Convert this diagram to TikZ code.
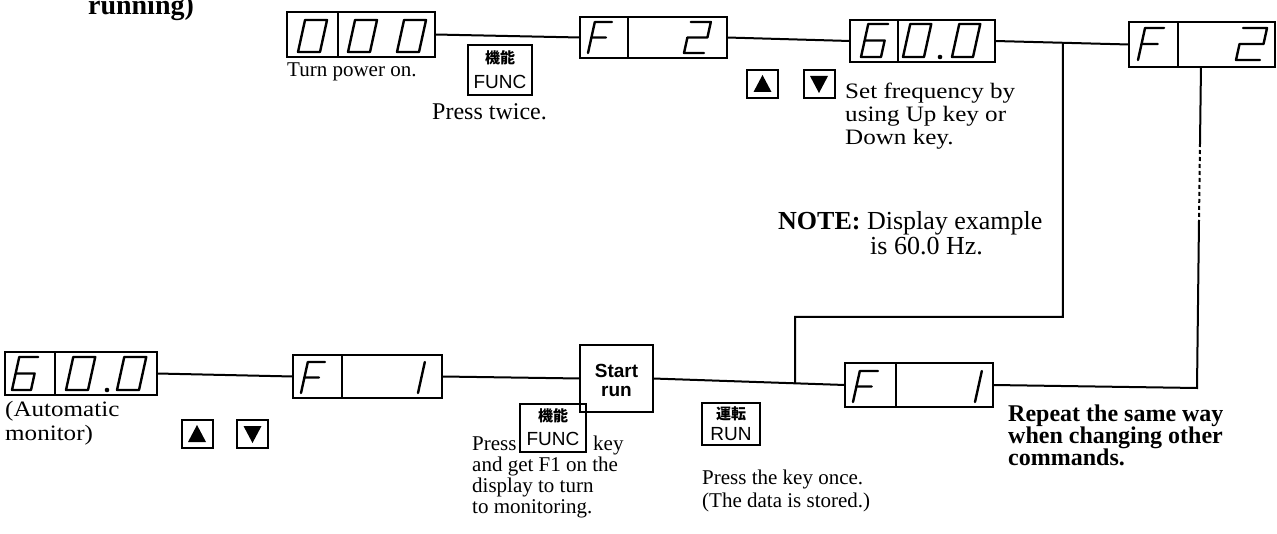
\documentclass[tikz,border=0pt]{standalone}
\usepackage{fontspec}
\setmainfont{Liberation Serif}
\setsansfont{Liberation Sans}
\newfontfamily\cjk{Noto Sans CJK JP}
\newfontfamily\serifwide{Liberation Serif}[FakeStretch=1.14]
\usetikzlibrary{calc}

\newcommand{\tsz}[1]{\fontsize{#1}{#1}\selectfont}

\tikzset{
  dispframe/.style={draw, line width=2.2pt, inner sep=0pt, outer sep=0pt},
  keyframe/.style={draw, line width=2pt, inner sep=0pt, outer sep=0pt},
  conn/.style={line width=2pt},
  segstroke/.style={line width=2.4pt, line join=round, line cap=round},
  txt/.style={inner sep=0pt, anchor=base west},
  keylab/.style={inner sep=0pt},
}

% display box: name, x1, y1, x2, y2, divider x
\newcommand{\dispbox}[6]{%
  \node[dispframe, minimum width={#4-#2}, minimum height={#5-#3}] (#1) at ({(#2+#4)/2},{(#3+#5)/2}) {};
  \draw[line width=1.6pt] (#6,#3) -- (#6,#5);}

% seven-segment stroke: bottom-left x, bottom y, width, height, path
\newcommand{\sseg}[5]{%
  \begin{scope}[shift={(#1,#2)}, x={(#3pt,0pt)}, y={(0.22*#4pt,#4pt)}]
    \draw[segstroke] #5;
  \end{scope}}
\newcommand{\dZero}[4]{\sseg{#1}{#2}{#3}{#4}{(0,0) -- (1,0) -- (1,1) -- (0,1) -- cycle}}
\newcommand{\dSix}[4]{\sseg{#1}{#2}{#3}{#4}{(1,1) -- (0,1) -- (0,0) -- (1,0) -- (1,0.5) -- (0,0.5)}}
\newcommand{\dTwo}[4]{\sseg{#1}{#2}{#3}{#4}{(0,1) -- (1,1) -- (1,0.5) -- (0,0.5) -- (0,0) -- (1,0)}}
\newcommand{\dOne}[4]{\sseg{#1}{#2}{#3}{#4}{(1,0) -- (1,1)}}
\newcommand{\dEff}[4]{\sseg{#1}{#2}{#3}{#4}{(1,1) -- (0,1) -- (0,0) (0,0.5) -- (0.85,0.5)}}

% arrow keys
\newcommand{\upkey}[3]{%
  \node[keyframe, minimum width=31, minimum height=28] (#1) at (#2,#3) {};
  \fill ([yshift=9pt]#1.center) -- ([shift={(-9pt,-8pt)}]#1.center) -- ([shift={(9pt,-8pt)}]#1.center) -- cycle;}
\newcommand{\downkey}[3]{%
  \node[keyframe, minimum width=31, minimum height=28] (#1) at (#2,#3) {};
  \fill ([yshift=-9pt]#1.center) -- ([shift={(-9pt,8pt)}]#1.center) -- ([shift={(9pt,8pt)}]#1.center) -- cycle;}

\begin{document}
\begin{tikzpicture}[x=1pt,y=-1pt]
\useasboundingbox (0,0) rectangle (1277,534);
\fill[white] (0,0) rectangle (1277,534);

% title fragment (clipped at top, as in the reference)
\node[inner sep=0pt, anchor=base, font=\tsz{28}\bfseries] (title) at (141,15) {running)};

% ---------- top row ----------
\dispbox{dA}{287}{12}{435}{57}{338}
\dZero{298}{52}{22}{32}
\dZero{348}{52}{22}{32}
\dZero{397}{52}{22}{32}

\dispbox{dB}{580}{17}{727}{58}{628}
\dEff{588}{53}{17}{31}
\dTwo{684}{53}{20}{31}

\dispbox{dC}{850}{20}{995}{62}{898}
\dSix{861}{57}{20}{33}
\dZero{903}{57}{21}{33}
\fill (940,57) circle[radius=2.3pt];
\dZero{952}{57}{21}{33}

\dispbox{dD}{1129}{22}{1275}{67}{1178}
\dEff{1138}{60}{19}{32}
\dTwo{1236}{60}{24}{32}

% FUNC key (top)
\node[keyframe, minimum width=64, minimum height=50] (kA) at (500,70) {};
\node[keylab, font=\cjk\bfseries\tsz{15}] (kAj) at ([yshift=12pt]kA.center) {機能};
\node[keylab, font=\sffamily\tsz{19}] (kAe) at ([yshift=-12pt]kA.center) {FUNC};

\upkey{ukA}{762.5}{84}
\downkey{dkA}{819}{84}

% ---------- bottom row ----------
\dispbox{dE}{5}{352}{157}{395}{55}
\dSix{12}{390}{19}{33}
\dZero{66}{390}{22}{33}
\fill (107,390) circle[radius=2.3pt];
\dZero{117}{390}{22}{33}

\dispbox{dF}{293}{355}{442}{398}{342}
\dEff{301}{393}{17}{31}
\dOne{400}{393}{18}{31}

\node[keyframe, minimum width=73, minimum height=67] (sr) at (616.5,378.5) {};
\node[keylab, font=\sffamily\bfseries\tsz{19}] (srA) at ([yshift=8pt]sr.center) {Start};
\node[keylab, font=\sffamily\bfseries\tsz{19}] (srB) at ([yshift=-13pt]sr.center) {run};

\dispbox{dG}{845}{363}{993}{407}{896}
\dEff{853}{402}{18}{31}
\dOne{957}{402}{18}{31}

% FUNC key (bottom)
\node[keyframe, minimum width=66, minimum height=48] (kB) at (553,428) {};
\node[keylab, font=\cjk\bfseries\tsz{15}] (kBj) at ([yshift=12pt]kB.center) {機能};
\node[keylab, font=\sffamily\tsz{19}] (kBe) at ([yshift=-11pt]kB.center) {FUNC};

% RUN key
\node[keyframe, minimum width=58, minimum height=42] (kC) at (731,424) {};
\node[keylab, font=\cjk\bfseries\tsz{15}] (kCj) at ([yshift=10pt]kC.center) {運転};
\node[keylab, font=\sffamily\tsz{19}] (kCe) at ([yshift=-10pt]kC.center) {RUN};

\upkey{ukB}{197}{434}
\downkey{dkB}{252.5}{434}

% ---------- connectors ----------
\draw[conn] (dA.east) -- (dB.west);
\draw[conn] (dB.east) -- (dC.west);
\draw[conn] (dC.east) -- (dD.west);
\draw[conn] (dE.east) -- (dF.west);
\draw[conn] (dF.east) -- (sr.west);
\draw[conn] (sr.east) -- (dG.west);

\coordinate (j1) at ($(dC.east)!0.507!(dD.west)$);
\coordinate (k2) at (795,317);
\coordinate (j2) at ($(sr.east)!0.74!(dG.west)$);
\draw[conn] (j1) |- (k2) -- (j2);

\coordinate (r0) at ($(dD.south west)!0.493!(dD.south east)$);
\coordinate (r1) at (1200,143);
\coordinate (r2) at (1199,220);
\coordinate (r3) at (1197,388);
\draw[conn] (r0) -- (r1);
\draw[conn, dash pattern=on 4pt off 3pt] (r1) -- (r2);
\draw[conn] (r2) -- (r3) -- (dG.east);

% ---------- texts ----------
\node[txt, font=\tsz{21}] (t1) at (287,77) {Turn power on.};
\node[txt, font=\tsz{24}] (t2) at (432,120) {Press twice.};
\node[txt, font=\serifwide\tsz{22}] (t3a) at (845,99) {Set frequency by};
\node[txt, font=\serifwide\tsz{22}] (t3b) at (845,122) {using Up key or};
\node[txt, font=\serifwide\tsz{22}] (t3c) at (845,145) {Down key.};
\node[txt, font=\tsz{26}] (t4a) at (778,230) {\textbf{NOTE:} Display example};
\node[txt, font=\tsz{26}] (t4b) at (870,255) {is 60.0 Hz.};
\node[txt, font=\serifwide\tsz{22}] (t5a) at (5,417) {(Automatic};
\node[txt, font=\serifwide\tsz{22}] (t5b) at (5,440) {monitor)};
\node[txt, font=\tsz{21}] (t6a) at (472,450) {Press};
\node[txt, font=\tsz{21}] (t6b) at (593,450) {key};
\node[txt, font=\tsz{21}] (t6c) at (472,471) {and get F1 on the};
\node[txt, font=\tsz{21}] (t6d) at (472,492) {display to turn};
\node[txt, font=\tsz{21}] (t6e) at (472,513) {to monitoring.};
\node[txt, font=\tsz{21}] (t7a) at (702,484) {Press the key once.};
\node[txt, font=\tsz{21}] (t7b) at (702,507) {(The data is stored.)};
\node[txt, font=\tsz{24}\bfseries] (t8a) at (1008,421) {Repeat the same way};
\node[txt, font=\tsz{24}\bfseries] (t8b) at (1008,443) {when changing other};
\node[txt, font=\tsz{24}\bfseries] (t8c) at (1008,465) {commands.};
\end{tikzpicture}
\end{document}
